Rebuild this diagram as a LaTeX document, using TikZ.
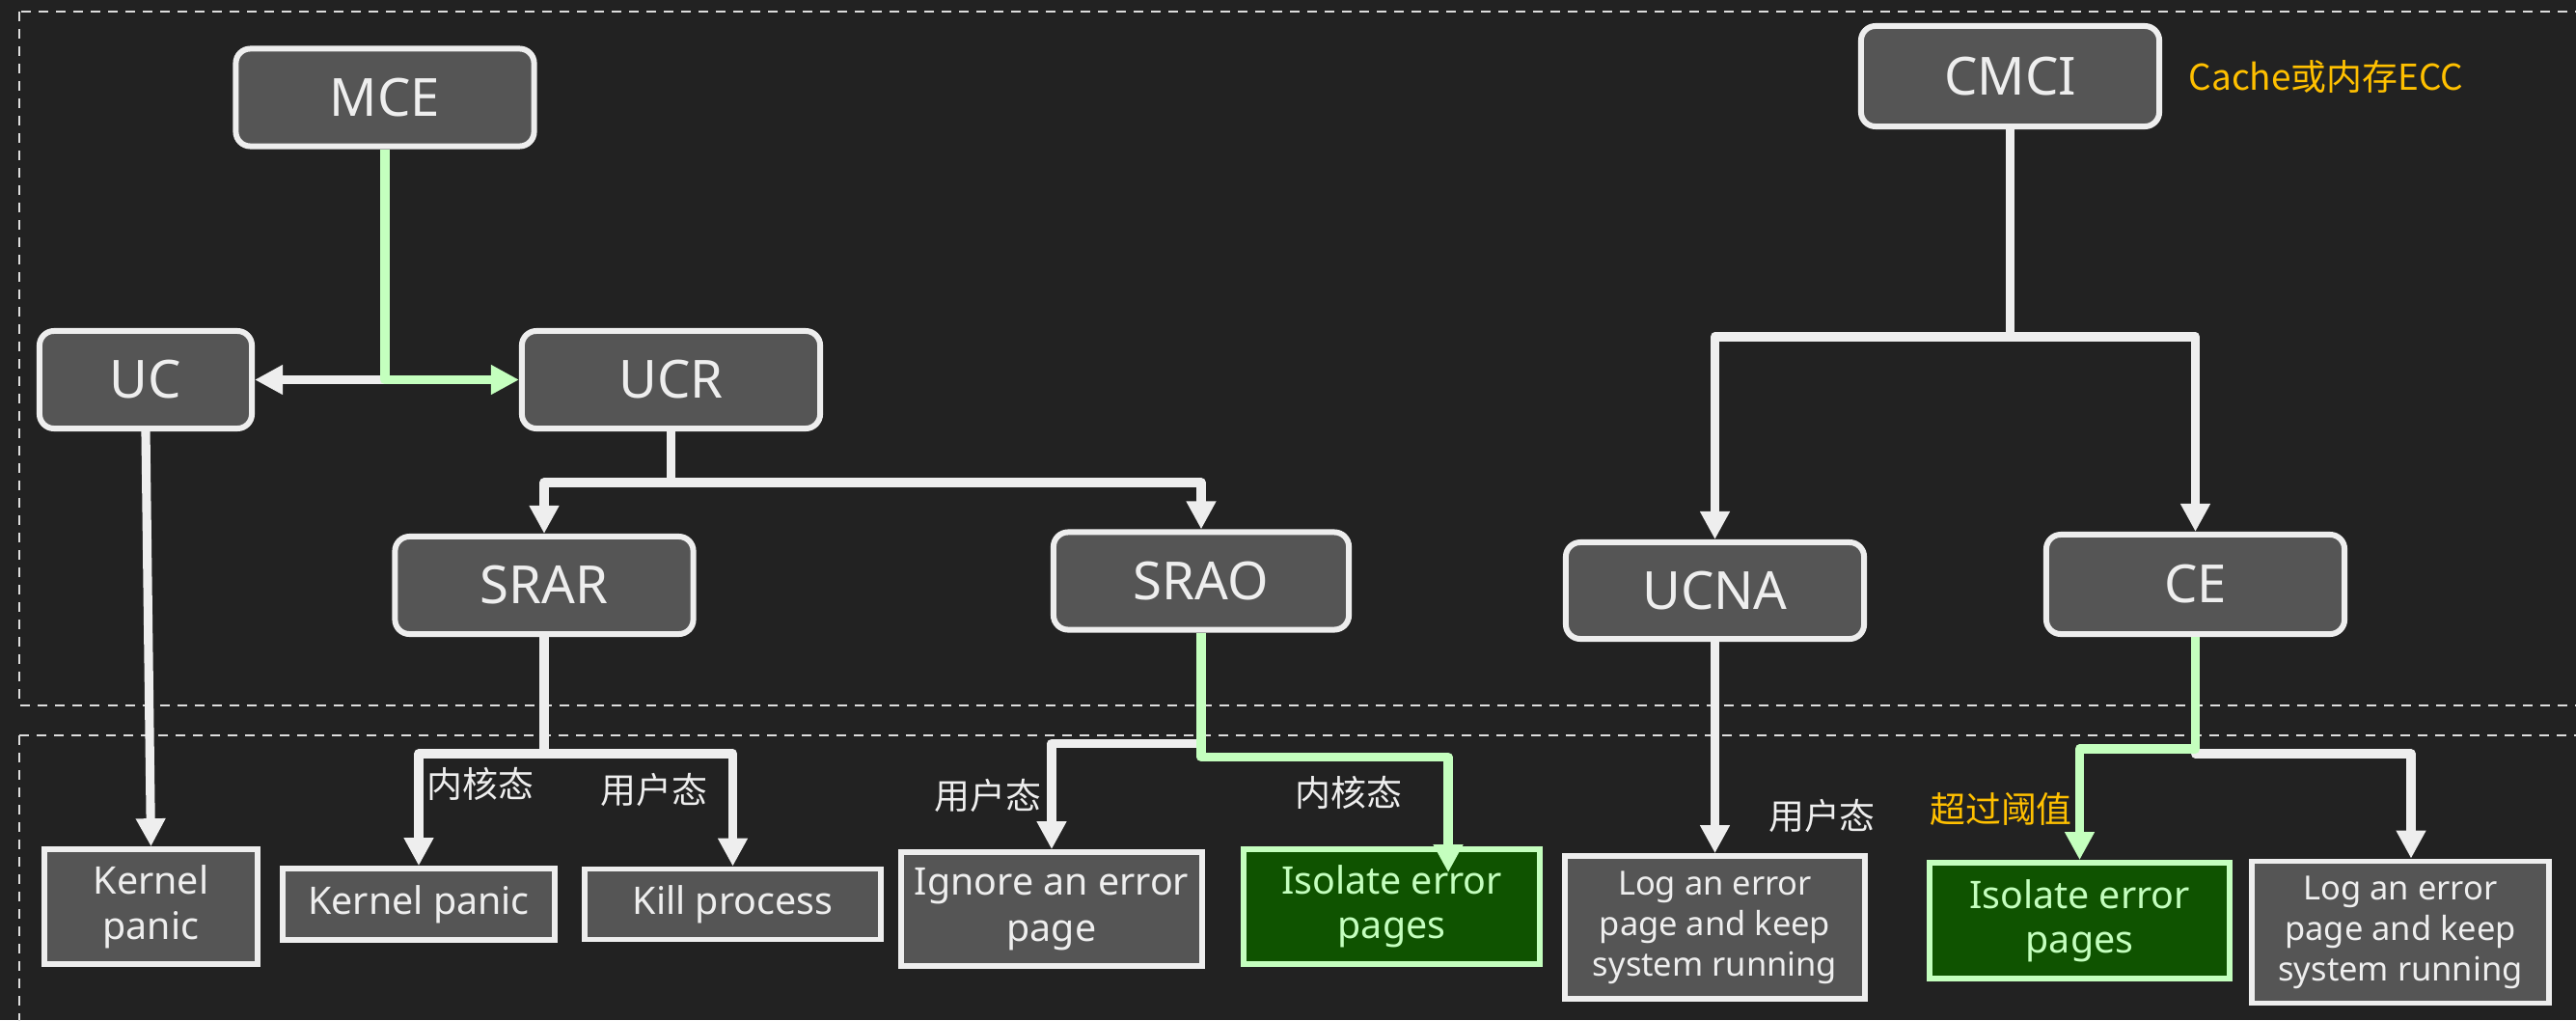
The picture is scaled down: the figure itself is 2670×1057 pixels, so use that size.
\documentclass[tikz,border=0pt]{standalone}
\usepackage{fontspec}
\setmainfont{Noto Sans}
\newfontfamily\cjk{Noto Sans CJK SC}
\usetikzlibrary{arrows.meta}
\definecolor{bg}{HTML}{222222}
\definecolor{nodefill}{HTML}{555555}
\definecolor{edgecol}{HTML}{EEEEEE}
\definecolor{lgreen}{HTML}{C4FFBE}
\definecolor{dgreen}{HTML}{0F5300}
\definecolor{warnorange}{HTML}{FFC000}
\definecolor{dashcol}{HTML}{DDDDDD}
\begin{document}
\begin{tikzpicture}[x=0.01cm,y=-0.01cm,
  box/.style={rounded corners=0.15cm, fill=nodefill, draw=edgecol, line width=1.7pt,
    text=edgecol, font=\fontsize{15.5}{18}\selectfont, minimum width=3.09cm,
    minimum height=1.01cm, inner sep=0pt},
  leaf/.style={fill=nodefill, draw=edgecol, line width=1.6pt, text=edgecol,
    font=\fontsize{11.2}{13.5}\selectfont, align=center, inner sep=0pt},
  logleaf/.style={leaf, font=\fontsize{9.8}{11.9}\selectfont},
  gleaf/.style={leaf, fill=dgreen, draw=lgreen, text=lgreen, font=\fontsize{11.2}{13}\selectfont},
  wconn/.style={draw=edgecol, line width=2.6pt, line join=round,
    -{Triangle[length=0.29cm,width=0.29cm]}},
  gconn/.style={wconn, draw=lgreen, -{Triangle[length=0.29cm,width=0.29cm,fill=lgreen]}},
  lbl/.style={text=edgecol, font=\cjk\fontsize{10.5}{12}\selectfont, inner sep=0pt},
  olbl/.style={lbl, text=warnorange},
  dashbox/.style={draw=dashcol, line width=0.75pt, dash pattern=on 0.1cm off 0.08cm}]
\fill[bg] (0,0) rectangle (2670,1057);
\useasboundingbox (0,0) rectangle (2670,1057);
\begin{scope}
  \clip (0,0) rectangle (2670,1057);
  \draw[dashbox] (20,12) rectangle (2720,731);
  \draw[dashbox] (20,762) rectangle (2720,1120);
\end{scope}

% main nodes
\node[box] (MCE) at (399,101) {MCE};
\node[box, minimum width=2.20cm] (UC) at (151,393.5) {UC};
\node[box] (UCR) at (695.5,393.5) {UCR};
\node[box] (SRAR) at (564,606.5) {SRAR};
\node[box, minimum width=3.06cm] (SRAO) at (1245,602) {SRAO};
\node[box, minimum height=1.04cm] (CMCI) at (2083.5,79) {CMCI};
\node[box, minimum height=1.00cm] (UCNA) at (1777.5,612) {UCNA};
\node[box, minimum height=1.03cm] (CE) at (2275.5,605.5) {CE};

% leaves
\node[leaf, minimum width=2.21cm, minimum height=1.19cm] (KP1) at (156.5,939.5) {Kernel\\panic};
\node[leaf, minimum width=2.82cm, minimum height=0.74cm] (KP2) at (434,937) {Kernel panic};
\node[leaf, minimum width=3.07cm, minimum height=0.73cm] (KILL) at (759.5,937) {Kill process};
\node[leaf, minimum width=3.12cm, minimum height=1.18cm] (IGN) at (1090,942) {Ignore an error\\page};
\node[gleaf, minimum width=3.07cm, minimum height=1.19cm] (ISO1) at (1442.5,939.5) {Isolate error\\pages};
\node[logleaf, minimum width=3.11cm, minimum height=1.48cm] (LOG1) at (1777.5,961) {Log an error\\page and keep\\system running};
\node[gleaf, minimum width=3.11cm, minimum height=1.20cm] (ISO2) at (2155.5,954) {Isolate error\\pages};
\node[logleaf, minimum width=3.08cm, minimum height=1.47cm] (LOG2) at (2488,966) {Log an error\\page and keep\\system running};

% labels
\node[olbl, anchor=west] (ecc) at (2268,79) {Cache或内存ECC};
\node[lbl] (k1) at (498,812) {内核态};
\node[lbl] (u1) at (678,818) {用户态};
\node[lbl] (u2) at (1024,824) {用户态};
\node[lbl] (k2) at (1398,821) {内核态};
\node[lbl] (u3) at (1888.5,845) {用户态};
\node[olbl] (thr) at (2074,838) {超过阈值};

% connectors
\coordinate (J1) at (MCE.south |- UCR.west);
\draw[wconn] (J1) -- (UC.east);
\draw[gconn] (MCE.south) |- (UCR.west);
\draw[wconn] (UC.south) -- (KP1.north);
\draw[wconn] (UCR.south) -- ++(0,53) -| (SRAR.north);
\draw[wconn] (UCR.south) -- ++(0,53) -| (SRAO.north);
\draw[wconn] (SRAR.south) -- ++(0,121) -| (KP2.north);
\draw[wconn] (SRAR.south) -- ++(0,121) -| (KILL.north);
\draw[wconn] (SRAO.south) -- ++(0,115) -| (IGN.north);
\draw[gconn] (SRAO.south) -- ++(0,129) -| ([xshift=0.585cm,yshift=-0.27cm]ISO1.north);
\draw[wconn] (CMCI.south) -- ++(0,215) -| (UCNA.north);
\draw[wconn] (CMCI.south) -- ++(0,215) -| (CE.north);
\draw[wconn] (UCNA.south) -- (LOG1.north);
\draw[wconn] (CE.south) -- ++(0,121) -| ([xshift=0.11cm]LOG2.north);
\draw[gconn] (CE.south) -- ++(0,116) -| (ISO2.north);
\end{tikzpicture}
\end{document}
